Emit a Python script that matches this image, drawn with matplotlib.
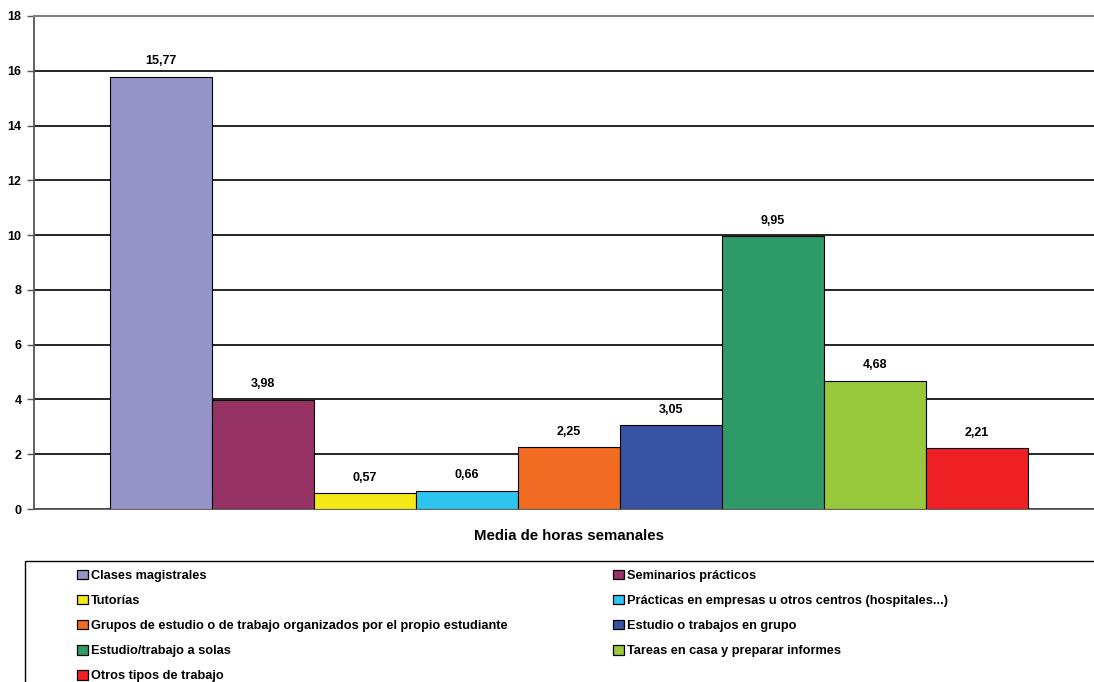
import matplotlib
matplotlib.use("Agg")
import matplotlib.pyplot as plt
from matplotlib.patches import Patch, Rectangle

categories = [
    "Clases magistrales",
    "Seminarios prácticos",
    "Tutorías",
    "Prácticas en empresas u otros centros (hospitales...)",
    "Grupos de estudio o de trabajo organizados por el propio estudiante",
    "Estudio o trabajos en grupo",
    "Estudio/trabajo a solas",
    "Tareas en casa y preparar informes",
    "Otros tipos de trabajo",
]
values = [15.77, 3.98, 0.57, 0.66, 2.25, 3.05, 9.95, 4.68, 2.21]
colors = ["#9494C8", "#963264", "#F2E916", "#2EC4F0", "#F26B22",
          "#3853A4", "#2E9A67", "#98C83C", "#EE2024"]
yticks = [0, 2, 4, 6, 8, 10, 12, 14, 16, 18]
xlabel = "Media de horas semanales"

plt.rcParams['font.family'] = ['Liberation Sans', 'DejaVu Sans']
plt.rcParams['font.weight'] = 'bold'

W, H = 1094, 682
fig = plt.figure(figsize=(W / 100, H / 100), dpi=100)
ax = fig.add_axes([34 / W, (H - 509) / H, (1104 - 34) / W, (509 - 16) / H])

xs = list(range(len(values)))
bars = ax.bar(xs, values, width=1.0, color=colors, edgecolor="black",
              linewidth=0.8, zorder=3)
for x, v in zip(xs, values):
    ax.annotate(f"{v:.2f}".replace(".", ","), (x, v), xytext=(0, 7),
                textcoords="offset points", ha="center", va="bottom",
                fontsize=9, fontweight="bold")

ax.set_xlim(-1.245, 9.245)
ax.set_ylim(0, 18)
ax.set_yticks(yticks)
ax.set_yticklabels([str(t) for t in yticks], fontsize=9, fontweight="bold")
ax.set_xticks([])
ax.yaxis.grid(True, color="black", linewidth=1.2)
ax.set_axisbelow(True)
ax.tick_params(axis="y", direction="out", length=5, width=1, color="#555555", pad=4)
for s in ["left", "bottom"]:
    ax.spines[s].set_color("#555555")
    ax.spines[s].set_linewidth(1.3)
ax.spines["top"].set_color("#808080")
ax.spines["top"].set_linewidth(1.5)
ax.spines["right"].set_visible(False)

fig.text(569 / W, 1 - 536 / H, xlabel, ha="center", va="center",
         fontsize=10.8, fontweight="bold")

# legend frame
fig.patches.append(Rectangle((25 / W, -0.1), 1.2, (H - 561) / H + 0.1,
                             transform=fig.transFigure, facecolor="none",
                             edgecolor="black", linewidth=1.0))

handles = [Patch(facecolor=c, edgecolor="black", linewidth=0.9) for c in colors]
kw = dict(frameon=False, handlelength=0.85, handleheight=0.8,
          handletextpad=0.25, labelspacing=1.0, borderpad=0, borderaxespad=0,
          loc="upper left", prop={"weight": "bold", "size": 9.2})
left_idx = [0, 2, 4, 6, 8]
right_idx = [1, 3, 5, 7]
leg1 = fig.legend([handles[i] for i in left_idx], [categories[i] for i in left_idx],
                  bbox_to_anchor=(77 / W, 1 - 569.5 / H), **kw)
leg2 = fig.legend([handles[i] for i in right_idx], [categories[i] for i in right_idx],
                  bbox_to_anchor=(613 / W, 1 - 569.5 / H), **kw)

fig.savefig("out.png", dpi=100)
